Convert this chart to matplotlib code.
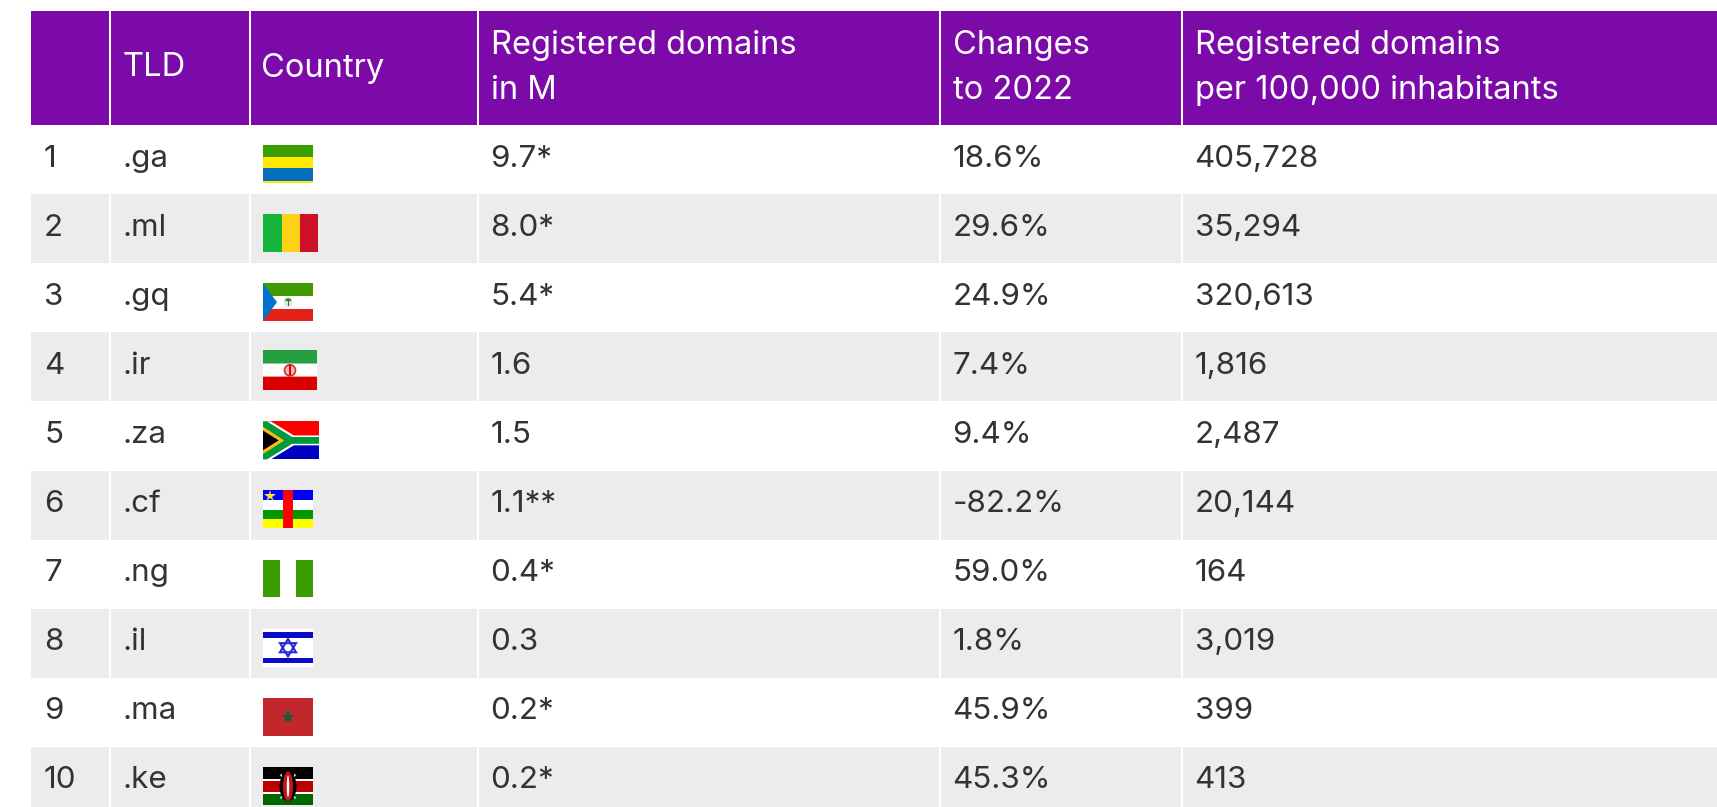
import matplotlib
matplotlib.use('Agg')
import matplotlib.pyplot as plt
from matplotlib.patches import Rectangle, Polygon, Ellipse

plt.rcParams['font.family'] = ['Inter', 'DejaVu Sans']

ranks = ['1', '2', '3', '4', '5', '6', '7', '8', '9', '10']
tlds = ['.ga', '.ml', '.gq', '.ir', '.za', '.cf', '.ng', '.il', '.ma', '.ke']
domains = ['9.7*', '8.0*', '5.4*', '1.6', '1.5', '1.1**', '0.4*', '0.3', '0.2*', '0.2*']
changes = ['18.6%', '29.6%', '24.9%', '7.4%', '9.4%', '-82.2%', '59.0%', '1.8%', '45.9%', '45.3%']
per_100k = ['405,728', '35,294', '320,613', '1,816', '2,487', '20,144', '164', '3,019', '399', '413']
headers = ['', 'TLD', 'Country', 'Registered domains\nin M', 'Changes\nto 2022',
           'Registered domains\nper 100,000 inhabitants']

W, H = 1717, 807
col_x = [31, 109.5, 250, 477.5, 939.5, 1181.5, W + 5]
head_top, head_bot = 11, 125
row_h = 69.1
PURPLE = '#7b0aa8'
GREY = '#ececec'
TEXT = '#333333'

fig = plt.figure(figsize=(W / 100, H / 100), dpi=100)
ax = fig.add_axes([0, 0, 1, 1])
ax.set_xlim(0, W)
ax.set_ylim(H, 0)
ax.axis('off')


def cell(x0, x1, y0, y1, color):
    ax.add_patch(Rectangle((x0, y0), x1 - x0, y1 - y0, fc=color, ec='none', zorder=1))


def flag_box(x, y, w, h):
    # u, v in 0..1 inside the flag -> pixels
    def to_px(u, v):
        return x + u * w, y + v * h
    return to_px


def hstripes(x, y, w, h, bands):
    v = 0
    for frac, c in bands:
        ax.add_patch(Rectangle((x, y + v * h), w, frac * h, fc=c, ec='none', zorder=3))
        v += frac


def vstripes(x, y, w, h, bands):
    u = 0
    for frac, c in bands:
        ax.add_patch(Rectangle((x + u * w, y), frac * w, h, fc=c, ec='none', zorder=3))
        u += frac


def poly(p, pts, c, z=4):
    ax.add_patch(Polygon([p(*q) for q in pts], closed=True, fc=c, ec='none', zorder=z))


def flag_ga(x, y):
    hstripes(x, y, 50, 38, [(.34, '#3a9e00'), (.29, '#ffe900'), (.34, '#046fbf'), (.03, '#ffe900')])


def flag_ml(x, y):
    vstripes(x, y, 55, 38, [(.35, '#14b53a'), (.325, '#fcd116'), (.325, '#ce1126')])


def flag_gq(x, y):
    w, h = 50, 38
    p = flag_box(x, y, w, h)
    hstripes(x, y, w, h, [(1 / 3, '#419a00'), (1 / 3, 'white'), (1 / 3, '#e32118')])
    poly(p, [(0, 0), (.28, .5), (0, 1)], '#0073ce')
    ax.add_patch(Ellipse(p(.5, .5), 9, 10, fc='#e8e4d8', ec='none', zorder=4))
    ax.add_patch(Rectangle(p(.49, .47), 1.2, 5, fc='#6b4a20', ec='none', zorder=5))
    ax.add_patch(Ellipse(p(.505, .44), 6, 3, fc='#1f8a3a', ec='none', zorder=5))


def flag_ir(x, y):
    w, h = 54, 40
    p = flag_box(x, y, w, h)
    hstripes(x, y, w, h, [(.33, '#239f40'), (.02, '#8fcf9f'), (.3, 'white'),
                          (.02, '#ef9a9a'), (.33, '#da0000')])
    ax.add_patch(Ellipse(p(.5, .5), 11, 11, fc='#f4b8b8', ec='#da2a2a', lw=1.2, zorder=4))
    ax.add_patch(Rectangle(p(.49, .38), 1.5, 10, fc='#da0000', ec='none', zorder=5))


def flag_za(x, y):
    w, h = 56, 38
    p = flag_box(x, y, w, h)
    hstripes(x, y, w, h, [(.5, '#ff0000'), (.5, '#0000c0')])
    poly(p, [(0, 0), (.14, 0), (.55, .37), (1, .37), (1, .63), (.55, .63), (.14, 1), (0, 1)], 'white')
    poly(p, [(0, 0), (.07, 0), (.52, .41), (1, .41), (1, .59), (.52, .59), (.07, 1), (0, 1)], '#009a3d', z=5)
    poly(p, [(0, .14), (.38, .5), (0, .86)], '#ffb915', z=6)
    poly(p, [(0, .24), (.28, .5), (0, .76)], 'black', z=7)


def flag_cf(x, y):
    w, h = 50, 38
    p = flag_box(x, y, w, h)
    hstripes(x, y, w, h, [(.27, '#0000ff'), (.26, 'white'), (.24, '#009a00'), (.23, '#ffff00')])
    ax.add_patch(Rectangle(p(.4, 0), .2 * w, h, fc='#ff0000', ec='none', zorder=4))
    ax.plot(*p(.13, .15), marker='*', ms=9, color='#ffe81a', mew=0, zorder=5)


def flag_ng(x, y):
    vstripes(x, y, 50, 37, [(.34, '#3a9e00'), (.32, 'white'), (.34, '#3a9e00')])


def flag_il(x, y):
    w, h = 50, 38
    p = flag_box(x, y, w, h)
    hstripes(x, y, w, h, [(.09, 'white'), (.15, '#0a0ac8'), (.52, 'white'), (.15, '#0a0ac8'), (.09, 'white')])
    for pts in ([(.5, .27), (.66, .62), (.34, .62)], [(.5, .73), (.66, .38), (.34, .38)]):
        ax.add_patch(Polygon([p(*q) for q in pts], closed=True, fc='none', ec='#2828d0', lw=1.5, zorder=5))


def flag_ma(x, y):
    w, h = 50, 38
    p = flag_box(x, y, w, h)
    ax.add_patch(Rectangle((x, y), w, h, fc='#c1272d', ec='none', zorder=3))
    ax.plot(*p(.5, .5), marker='*', ms=11, color='#1f5a32', mew=0, zorder=5)


def flag_ke(x, y):
    w, h = 50, 38
    p = flag_box(x, y, w, h)
    hstripes(x, y, w, h, [(.31, 'black'), (.04, 'white'), (.3, '#bb0000'), (.04, 'white'), (.31, '#006600')])
    ax.plot(*zip(p(.36, .2), p(.64, .8)), color='#dddddd', lw=1.2, zorder=4)
    ax.plot(*zip(p(.64, .2), p(.36, .8)), color='#dddddd', lw=1.2, zorder=4)
    ax.add_patch(Ellipse(p(.5, .5), 17, 30, fc='black', ec='none', zorder=5))
    ax.add_patch(Ellipse(p(.5, .5), 10, 30, fc='#cc1111', ec='none', zorder=6))
    ax.add_patch(Ellipse(p(.5, .5), 2.5, 22, fc='white', ec='none', zorder=7))


# flag drawer, offset from the top of the row
flags = [(flag_ga, 19.5), (flag_ml, 20), (flag_gq, 20), (flag_ir, 18), (flag_za, 20),
         (flag_cf, 19.5), (flag_ng, 20.5), (flag_il, 20), (flag_ma, 20), (flag_ke, 20.5)]

sep = 1.0
HEAD_FS = 23.5
BODY_FS = 22.6
pad = [13, 13, 13, 13, 13, 13]
head_pad = [13, 13, 11, 13, 13, 13]

# header
for i, label in enumerate(headers):
    x0, x1 = col_x[i], col_x[i + 1]
    cell(x0 + (sep if i else 0), x1 - sep, head_top, head_bot, PURPLE)
    if label:
        ax.text(x0 + head_pad[i], 68, label, color='white', fontsize=HEAD_FS, va='center', ha='left',
                linespacing=1.58, zorder=5)

# rows
for r in range(len(ranks)):
    top = head_bot + r * row_h
    if r % 2 == 1:
        for i in range(6):
            cell(col_x[i] + (sep if i else 0), col_x[i + 1] - sep, top, top + row_h, GREY)
    y = top + row_h / 2 - 1
    row = [ranks[r], tlds[r], None, domains[r], changes[r], per_100k[r]]
    for i, val in enumerate(row):
        if val is not None:
            ax.text(col_x[i] + pad[i], y, val, color=TEXT, fontsize=BODY_FS, va='center', ha='left', zorder=5)
    drawer, off = flags[r]
    drawer(263, top + off)

fig.savefig('out.png', dpi=100, facecolor='white')
